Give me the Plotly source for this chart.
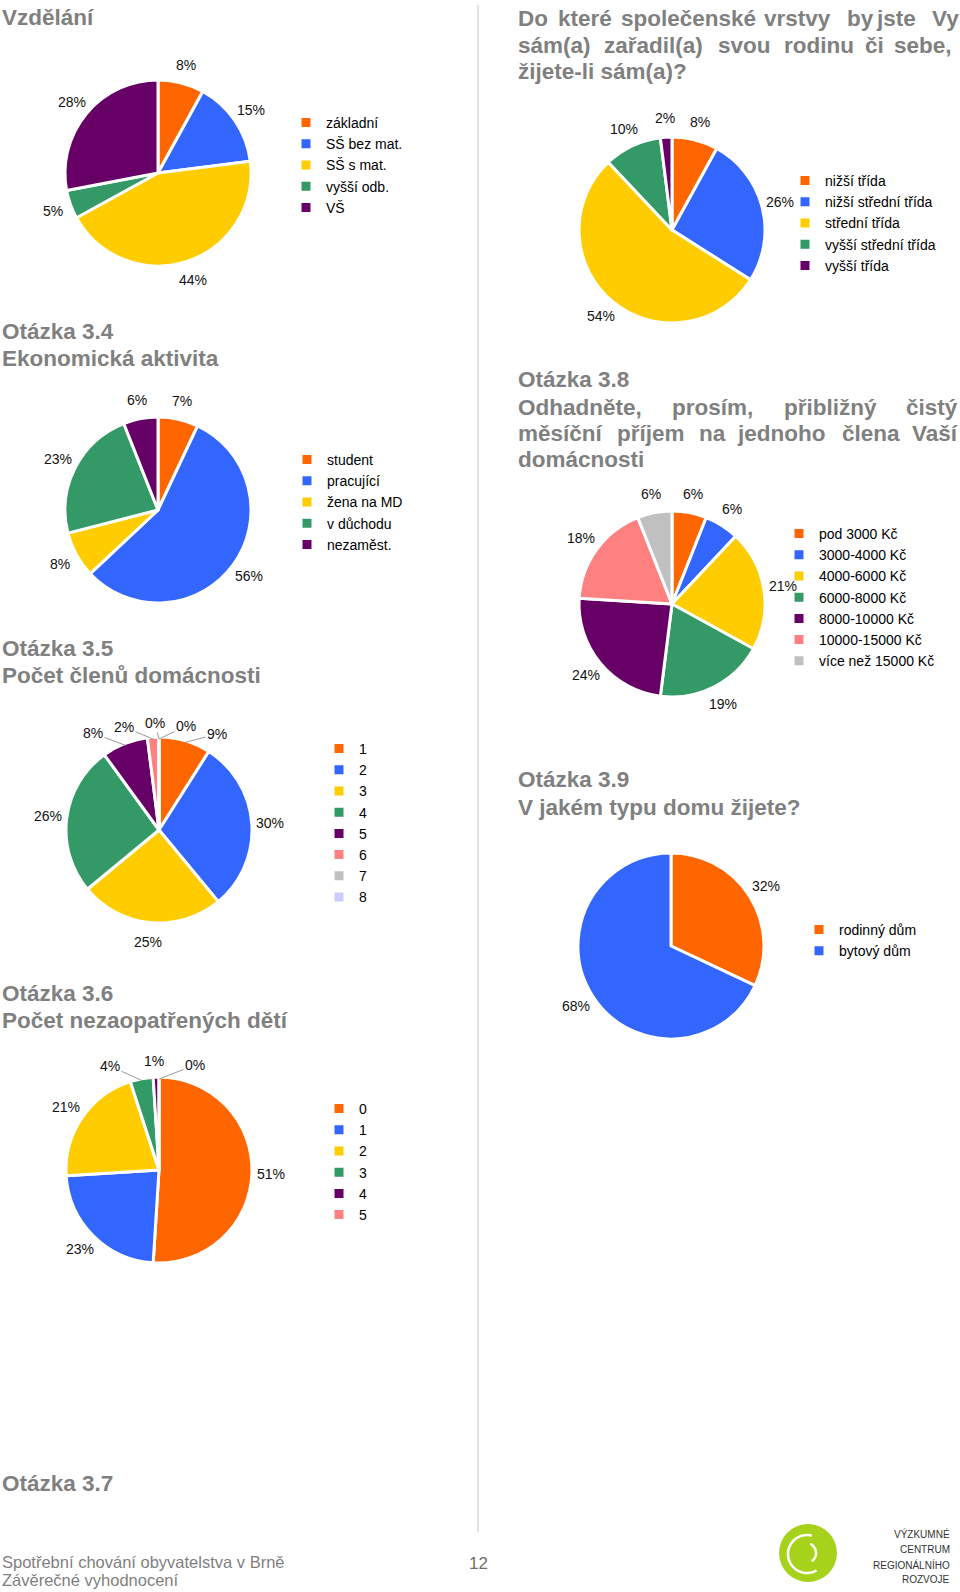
import numpy as np
import plotly.graph_objects as go

W, H = 960, 1592
FONT = "Liberation Sans, Arial, sans-serif"
TITLE_GRAY = "#808080"

# ---------------- data ----------------
edu_labels = ["základní", "SŠ bez mat.", "SŠ s mat.", "vyšší odb.", "VŠ"]
edu_values = [8, 15, 44, 5, 28]

class_labels = ["nižší třída", "nižší střední třída", "střední třída",
                "vyšší střední třída", "vyšší třída"]
class_values = [8, 26, 54, 10, 2]

econ_labels = ["student", "pracující", "žena na MD", "v důchodu", "nezaměst."]
econ_values = [7, 56, 8, 23, 6]

income_labels = ["pod 3000 Kč", "3000-4000 Kč", "4000-6000 Kč", "6000-8000 Kč",
                 "8000-10000 Kč", "10000-15000 Kč", "více než 15000 Kč"]
income_values = [6, 6, 21, 19, 24, 18, 6]

members_labels = ["1", "2", "3", "4", "5", "6", "7", "8"]
members_values = [9, 30, 25, 26, 8, 2, 0, 0]

house_labels = ["rodinný dům", "bytový dům"]
house_values = [32, 68]

children_labels = ["0", "1", "2", "3", "4", "5"]
children_values = [51, 23, 21, 4, 1, 0]

PALETTE = ["#FF6600", "#3366FF", "#FFCC00", "#339966", "#660066",
           "#FF8080", "#C0C0C0", "#CCCCFF"]

# ---------------- helpers ----------------
def px_x(x):
    return x / W

def px_y(y):
    return 1 - y / H

def domain(cx, cy, r):
    return dict(x=[px_x(cx - r), px_x(cx + r)], y=[px_y(cy + r), px_y(cy - r)])

fig = go.Figure()
ann = []

R = 93
LABEL_GAP = 19
LEGEND_SHIFT = 5
TITLE_SIZE = 22.5

# label placement tweaks for crowded small slices: index -> (text x, text y, leader line)
label_overrides = {
    "members": {4: (93, 733, True), 5: (124, 727, True), 6: (155, 723, True),
                7: (186, 726, True), 0: (217, 734, True), 1: (270, 823, False)},
    "children": {3: (110, 1066, True), 4: (154, 1061, False), 5: (195, 1065, True)},
}

pies = [
    # key, labels, values, center x, center y, legend name, legend text x, first item y
    ("edu", edu_labels, edu_values, 158, 173, "legend", 321, 122),
    ("class", class_labels, class_values, 672, 230, "legend2", 820, 180),
    ("econ", econ_labels, econ_values, 158, 510, "legend3", 322, 459),
    ("income", income_labels, income_values, 672, 604, "legend4", 814, 533),
    ("members", members_labels, members_values, 159, 830, "legend5", 354, 748),
    ("house", house_labels, house_values, 671, 946, "legend6", 834, 929),
    ("children", children_labels, children_values, 159, 1170, "legend7", 354, 1108),
]

legend_layouts = {}
used_labels = set()
for key, labels, values, cx, cy, lg, tx, ty in pies:
    # plotly merges pie legend entries with identical labels across traces;
    # keep entries distinct per chart with an invisible zero-width suffix
    shown_labels = []
    for l in labels:
        s = l
        while s in used_labels:
            s += "\u200b"
        used_labels.add(s)
        shown_labels.append(s)

    fig.add_trace(go.Pie(
        labels=shown_labels, values=values,
        sort=False, direction="clockwise", rotation=0,
        marker=dict(colors=PALETTE[:len(labels)], line=dict(color="white", width=3)),
        textinfo="none",
        domain=domain(cx, cy, R), legend=lg, showlegend=True,
        hoverinfo="label+percent",
    ))
    legend_layouts[lg] = dict(
        x=px_x(tx - 40 + LEGEND_SHIFT), y=px_y(ty - 15), xanchor="left", yanchor="top",
        bgcolor="rgba(0,0,0,0)", borderwidth=0,
        font=dict(size=14, color="#000000", family=FONT),
        traceorder="normal",
    )

    # percentage labels placed along each slice's mid-angle
    total = float(sum(values))
    cum = 0.0
    ovr = label_overrides.get(key, {})
    for i, v in enumerate(values):
        mid = np.radians((cum + v / 2.0) / total * 360.0)
        cum += v
        dx, dy = np.sin(mid), -np.cos(mid)
        text = "%d%%" % v
        if i in ovr:
            lx, ly, leader = ovr[i]
        else:
            lx, ly, leader = cx + (R + LABEL_GAP) * dx, cy + (R + LABEL_GAP) * dy, False
        if leader:
            ex, ey = cx + (R - 2) * dx, cy + (R - 2) * dy
            ann.append(dict(text=text, x=px_x(ex), y=px_y(ey), xref="paper", yref="paper",
                            showarrow=True, arrowhead=0, arrowwidth=1, arrowcolor="#9a9a9a",
                            ax=lx - ex, ay=ly - ey, standoff=0, startstandoff=0,
                            font=dict(size=14, color="#111111", family=FONT)))
        else:
            ann.append(dict(text=text, x=px_x(lx), y=px_y(ly), xref="paper", yref="paper",
                            xanchor="center", yanchor="middle", showarrow=False,
                            font=dict(size=14, color="#111111", family=FONT)))

# ---------------- titles ----------------
def txt(s, x, y, size=TITLE_SIZE, bold=True, color=TITLE_GRAY, xanchor="left"):
    ann.append(dict(text=("<b>%s</b>" % s) if bold else s, x=px_x(x), y=px_y(y),
                    xref="paper", yref="paper", xanchor=xanchor, yanchor="middle",
                    showarrow=False, font=dict(size=size, color=color, family=FONT)))

txt("Vzdělání", 0, 17)
txt("Otázka 3.4", 0, 332)
txt("Ekonomická aktivita", 0, 358)
txt("Otázka 3.5", 0, 648)
txt("Počet členů domácnosti", 0, 675)
txt("Otázka 3.6", 0, 993)
txt("Počet nezaopatřených dětí", 0, 1020)
txt("Otázka 3.7", 0, 1483)

# justified right column lines: words placed at their positions
justified = [
    (18, [("Do", 516), ("které", 556), ("společenské", 619), ("vrstvy", 762),
          ("by", 845), ("jste", 874), ("Vy", 930)]),
    (45, [("sám(a)", 516), ("zařadil(a)", 602), ("svou", 716), ("rodinu", 782),
          ("či", 863), ("sebe,", 892)]),
    (72, [("žijete-li sám(a)?", 516)]),
    (380, [("Otázka 3.8", 516)]),
    (407, [("Odhadněte,", 516), ("prosím,", 670), ("přibližný", 782), ("čistý", 904)]),
    (433, [("měsíční", 516), ("příjem", 615), ("na", 697), ("jednoho", 735),
           ("člena", 840), ("Vaší", 910)]),
    (459, [("domácnosti", 516)]),
    (780, [("Otázka 3.9", 516)]),
    (807, [("V jakém typu domu žijete?", 516)]),
]
for y, words in justified:
    for w, x in words:
        txt(w, x, y)

# footer
txt("Spotřební chování obyvatelstva v Brně", 0, 1562, size=16.5, bold=False, color="#7f7f7f")
txt("Závěrečné vyhodnocení", 0, 1580, size=16.5, bold=False, color="#7f7f7f")
txt("12", 478, 1563, size=17, bold=False, color="#6f6f6f", xanchor="center")
for i, s in enumerate(["VÝZKUMNÉ", "CENTRUM", "REGIONÁLNÍHO", "ROZVOJE"]):
    txt(s, 952, 1534 + i * 15.3, size=10, bold=False, color="#333333", xanchor="right")

# ---------------- shapes ----------------
shapes = [
    dict(type="line", xref="paper", yref="paper", x0=px_x(478), x1=px_x(478),
         y0=px_y(5), y1=px_y(1532), line=dict(color="#c8c8c8", width=1)),
]
lcx, lcy, lr = 808, 1553, 29
shapes.append(dict(type="circle", xref="paper", yref="paper",
                   x0=px_x(lcx - lr), x1=px_x(lcx + lr), y0=px_y(lcy + lr), y1=px_y(lcy - lr),
                   fillcolor="#A6D21C", line=dict(width=0)))

def arc_path(cx, cy, r, a0, a1, n=40):
    t = np.radians(np.linspace(a0, a1, n))
    xs = cx + r * np.cos(t)
    ys = cy - r * np.sin(t)
    pts = ["%s%.5f,%.5f" % ("M" if i == 0 else "L", px_x(x), px_y(y))
           for i, (x, y) in enumerate(zip(xs, ys))]
    return " ".join(pts)

shapes.append(dict(type="path", xref="paper", yref="paper",
                   path=arc_path(lcx - 1, lcy + 1, 19, 75, 300),
                   line=dict(color="white", width=2.5)))
shapes.append(dict(type="path", xref="paper", yref="paper",
                   path=arc_path(lcx - 2, lcy, 10, -55, 65),
                   line=dict(color="white", width=2.5)))

fig.update_layout(
    width=W, height=H, margin=dict(l=0, r=0, t=0, b=0),
    paper_bgcolor="white", plot_bgcolor="white",
    annotations=ann, shapes=shapes,
    font=dict(family=FONT),
    **legend_layouts,
)

fig.write_html("out.html", config={"displayModeBar": False},
               post_script="document.body.style.margin='0px';document.body.style.overflow='hidden';")
